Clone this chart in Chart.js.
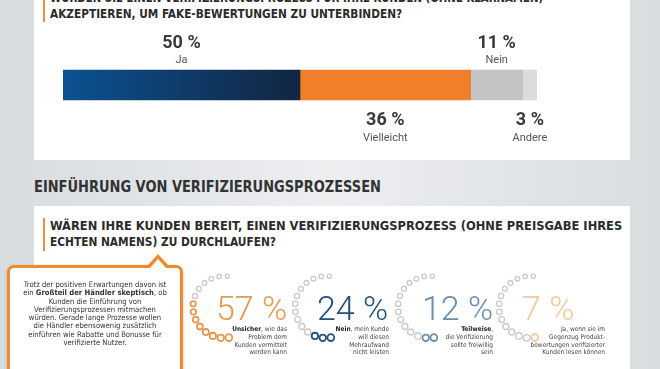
<!DOCTYPE html>
<html>
<head>
<meta charset="utf-8">
<script src="https://cdn.jsdelivr.net/npm/chart.js@4"></script>
<style>
html,body{margin:0;padding:0}
body{width:660px;height:369px;overflow:hidden;position:relative;
  background:linear-gradient(90deg,#d8dcdf 0%,#eceef0 50%,#d9dde0 100%);
  font-family:"DejaVu Sans Condensed","DejaVu Sans",sans-serif;color:#2a2a2a}
.abs{position:absolute}
.panel{position:absolute;left:34px;width:596px;background:#fff}
.q{position:absolute;left:50px;font-weight:bold;font-size:12px;line-height:16px;white-space:nowrap;transform-origin:0 50%;color:#2b2b2b}
.qbar{position:absolute;left:43px;width:2px;background:#e8913a}
.head{position:absolute;left:34px;top:178px;font-weight:bold;font-size:15px;line-height:18px;white-space:nowrap;transform-origin:0 50%;color:#333}
.num{position:absolute;font-family:Roboto,sans-serif;font-weight:300;font-size:34px;line-height:34px;white-space:nowrap}
.desc{position:absolute;font-size:6.5px;line-height:7.8px;text-align:right;color:#444;white-space:nowrap}
.desc b{color:#222}
#callout{position:absolute;left:7px;top:265px;width:170px;height:110px;border:3px solid #ef8a2f;border-radius:7px;background:#fff;box-shadow:0 1px 3px rgba(0,0,0,.25)}
#callout .t{position:absolute;left:0;width:170px;top:13px;text-align:center;font-size:7.6px;line-height:8.3px;color:#333}
.tri{position:absolute;width:0;height:0;border-left:11px solid transparent;border-right:11px solid transparent}
</style>
</head>
<body>
<div class="panel" style="top:0;height:160px"></div>
<div class="panel" style="top:206px;height:170px"></div>

<div class="qbar" style="top:0;height:22px"></div>
<div class="q fit" data-w="493" style="top:-10px">WÜRDEN SIE EINEN VERIFIZIERUNGSPROZESS FÜR IHRE KUNDEN (OHNE KLARNAMEN)</div>
<div class="q fit" data-w="352" style="top:6px">AKZEPTIEREN, UM FAKE-BEWERTUNGEN ZU UNTERBINDEN?</div>

<canvas id="bar" class="abs" width="660" height="160" style="left:0;top:0"></canvas>

<div class="head fit" data-w="347">EINFÜHRUNG VON VERIFIZIERUNGSPROZESSEN</div>

<div class="qbar" style="top:218px;height:33px"></div>
<div class="q fit" data-w="572" style="top:218px">WÄREN IHRE KUNDEN BEREIT, EINEN VERIFIZIERUNGSPROZESS (OHNE PREISGABE IHRES</div>
<div class="q fit" data-w="226" style="top:234px">ECHTEN NAMENS) ZU DURCHLAUFEN?</div>

<div id="gauges"></div>

<div id="callout"><div class="t">
Trotz der positiven Erwartungen davon ist<br>
ein <b>Großteil der Händler skeptisch</b>, ob<br>
Kunden die Einführung von<br>
Verifizierungsprozessen mitmachen<br>
würden. Gerade lange Prozesse wollen<br>
die Händler ebensowenig zusätzlich<br>
einführen wie Rabatte und Bonusse für<br>
verifizierte Nutzer.
</div></div>
<div class="tri" style="left:147px;top:254px;border-bottom:12px solid #ef8a2f"></div>
<div class="tri" style="left:150px;top:259px;border-left-width:8px;border-right-width:8px;border-bottom:9px solid #fff"></div>

<script>
/* =====  data  ===== */
const answers = ['Ja', 'Vielleicht', 'Nein', 'Andere'];
const shares  = [50, 36, 11, 3];
const answerColors = ['#0b5291', '#ef7f2a', '#c4c4c4', '#dcdcdc'];

const gaugeValues = [57, 24, 12, 7];
const gaugeColors = ['#e39a52', '#24507c', '#6a8fae', '#f2c9a0'];
const gaugeBold   = ['Unsicher', 'Nein', 'Teilweise', ''];
const gaugeText   = [
  ['Unsicher, wie das', 'Problem dem', 'Kunden vermittelt', 'werden kann'],
  ['Nein, mein Kunde', 'will diesen', 'Mehraufwand', 'nicht leisten'],
  ['Teilweise,', 'die Verifizierung', 'sollte freiwillig', 'sein'],
  ['Ja, wenn sie im', 'Gegenzug Produkt-', 'bewertungen verifizierter', 'Kunden lesen können']
];

/* =====  layout  ===== */
const gaugeCenterX = [224, 326, 429, 530];
const gaugeCenterY = 307;
const numLeft   = [216, 317, 422, 522];
const descRight = [287, 389, 493, 605];
const DOTS = 14, SLOTS = 24;

/* =====  stacked bar  ===== */
const labelPlugin = {
  id: 'segLabels',
  afterDatasetsDraw(chart) {
    const ctx = chart.ctx;
    chart.data.datasets.forEach((ds, i) => {
      const el = chart.getDatasetMeta(i).data[0];
      const cx = (el.x + el.base) / 2;
      const above = i % 2 === 0;
      const top = el.y - el.height / 2, bot = el.y + el.height / 2;
      ctx.save();
      ctx.textAlign = 'center';
      ctx.textBaseline = 'middle';
      ctx.fillStyle = '#3a3a3a';
      ctx.font = 'bold 18px Roboto, sans-serif';
      ctx.fillText(ds.data[0] + ' %', cx, above ? top - 27 : bot + 20);
      ctx.fillStyle = '#555';
      ctx.font = '11px Roboto, sans-serif';
      ctx.fillText(ds.label, cx, above ? top - 10 : bot + 38);
      ctx.restore();
    });
  }
};

function jaGradient(c) {
  const chart = c.chart, xs = chart.scales.x;
  if (!chart.chartArea || !xs) return answerColors[0];
  const x0 = xs.getPixelForValue(0), x1 = xs.getPixelForValue(shares[0]);
  if (!isFinite(x0) || !isFinite(x1)) return answerColors[0];
  const g = chart.ctx.createLinearGradient(x0, 0, x1, 0);
  g.addColorStop(0, '#0b5291');
  g.addColorStop(1, '#112641');
  return g;
}

new Chart(document.getElementById('bar'), {
  type: 'bar',
  data: {
    labels: [''],
    datasets: answers.map((a, i) => ({
      label: a,
      data: [shares[i]],
      barThickness: 30,
      borderWidth: 0,
      backgroundColor: i === 0 ? jaGradient : answerColors[i]
    }))
  },
  options: {
    indexAxis: 'y',
    responsive: false,
    animation: false,
    layout: { padding: { left: 63, right: 123, top: 60, bottom: 50 } },
    plugins: { legend: { display: false }, tooltip: { enabled: false } },
    scales: {
      x: { stacked: true, min: 0, max: 100, display: false },
      y: { stacked: true, display: false }
    }
  },
  plugins: [labelPlugin]
});

/* =====  dot gauges  ===== */
const box = document.getElementById('gauges');
gaugeValues.forEach((v, g) => {
  const size = 86;
  const cv = document.createElement('canvas');
  cv.width = size; cv.height = size;
  cv.className = 'abs';
  cv.style.left = (gaugeCenterX[g] - size / 2) + 'px';
  cv.style.top  = (gaugeCenterY - size / 2) + 'px';
  box.appendChild(cv);

  const filled = Math.round(v / 100 * DOTS);
  const slots = Array.from({ length: SLOTS }, () => '');
  new Chart(cv, {
    type: 'radar',
    data: {
      labels: slots,
      datasets: [{
        data: slots.map((_, i) => i < DOTS ? 1 : null),
        showLine: false,
        fill: false,
        borderWidth: 0,
        backgroundColor: 'rgba(0,0,0,0)',
        borderColor: 'rgba(0,0,0,0)',
        pointRadius: c => 3.4 - 1.3 * c.dataIndex / (DOTS - 1),
        pointBorderWidth: c => c.dataIndex < filled ? 1.8 : 1.3,
        pointBackgroundColor: '#fff',
        pointBorderColor: c => c.dataIndex < filled ? gaugeColors[g] : '#c9c9c9'
      }]
    },
    options: {
      responsive: false,
      animation: false,
      layout: { padding: 12 },
      plugins: { legend: { display: false }, tooltip: { enabled: false } },
      scales: { r: { min: 0, max: 1, startAngle: 171, display: false, pointLabels: { display: false }, ticks: { display: false } } }
    }
  });

  const n = document.createElement('div');
  n.className = 'num';
  n.style.left = numLeft[g] + 'px';
  n.style.top = '291px';
  n.style.color = gaugeColors[g];
  n.textContent = v + ' %';
  box.appendChild(n);

  const d = document.createElement('div');
  d.className = 'desc';
  d.style.right = (660 - descRight[g]) + 'px';
  d.style.top = '326px';
  d.innerHTML = gaugeText[g].map((line, k) => {
    if (k === 0 && gaugeBold[g]) return line.replace(gaugeBold[g], '<b>' + gaugeBold[g] + '</b>');
    return line;
  }).join('<br>');
  box.appendChild(d);
});

/* =====  fit condensed headings to measured widths  ===== */
document.querySelectorAll('.fit').forEach(el => {
  const w = el.getBoundingClientRect().width;
  el.style.transform = 'scaleX(' + (Number(el.dataset.w) / w).toFixed(3) + ')';
});
</script>
</body>
</html>
